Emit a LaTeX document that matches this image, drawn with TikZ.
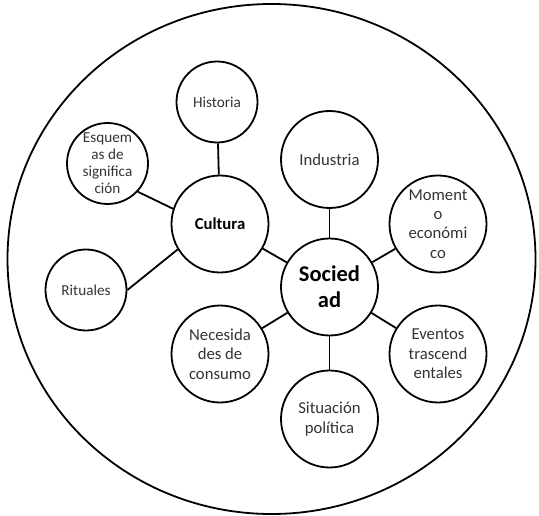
\documentclass[tikz,border=0pt]{standalone}
\usepackage{fontspec}
\setmainfont{Carlito}
\usetikzlibrary{shapes}

\tikzset{
  burbuja/.style={draw=black, line width=1.8pt, circle, minimum size=97pt, inner sep=0pt,
    align=center, text=black!80, font=\fontsize{16.7}{19.4}\selectfont},
  chica/.style={burbuja, minimum size=81pt, font=\fontsize{15.2}{17}\selectfont},
  enlace/.style={black, line width=1.8pt}
}

\begin{document}
\begin{tikzpicture}[x=1pt,y=-1pt]
\useasboundingbox (0,0) rectangle (539,516);
\draw[enlace] (271.5,259) ellipse (264pt and 255pt);
\node[chica] (historia) at (217,102) {Historia};
\node[chica] (esquemas) at (107.5,163.5) {Esquem\\as de\\significa\\ción};
\node[chica] (rituales) at (86,290) {Rituales};
\node[burbuja, text=black, font=\fontsize{16.7}{19}\selectfont\bfseries] (cultura) at (220,224) {Cultura};
\node[burbuja] (industria) at (329.5,159.5) {Industria};
\node[burbuja] (momento) at (438,224) {Moment\\o\\económi\\co};
\node[burbuja, text=black, font=\fontsize{22.5}{25.7}\selectfont\bfseries] (sociedad) at (329.5,287) {Socied\\ad};
\node[burbuja] (necesidades) at (220,354) {Necesida\\des de\\consumo};
\node[burbuja] (eventos) at (438,354) {Eventos\\trascend\\entales};
\node[burbuja] (situacion) at (329.5,419) {Situación\\política};
\draw[enlace] (historia) -- (cultura);
\draw[enlace] (esquemas.-43) -- (cultura.162);
\draw[enlace] (rituales.east) -- (cultura.211);
\draw[enlace] (cultura) -- (sociedad);
\draw[enlace] (industria) -- (sociedad);
\draw[enlace] (momento) -- (sociedad);
\draw[enlace] (eventos) -- (sociedad);
\draw[enlace] (necesidades) -- (sociedad);
\draw[enlace] (situacion) -- (sociedad);
\end{tikzpicture}
\end{document}
